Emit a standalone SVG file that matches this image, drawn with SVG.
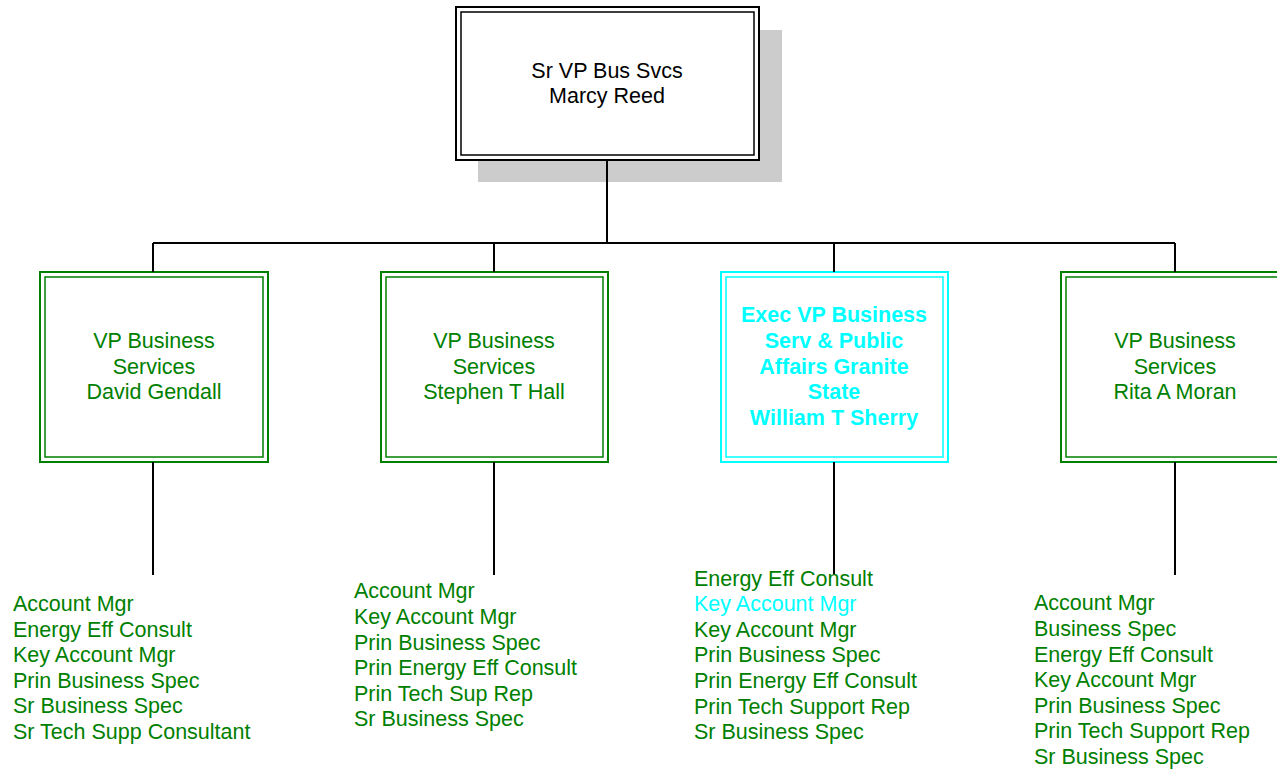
<svg xmlns="http://www.w3.org/2000/svg" width="1277" height="769" viewBox="0 0 1277 769">
<style>
text{font-family:"Liberation Sans",Arial,sans-serif;font-size:21.5px}
.c{text-anchor:middle}
.g{fill:#008000}
.cy{fill:#00ffff}
.b{font-weight:bold}
.bk{fill:#000}
.gbox{fill:#fff;stroke:#008000;stroke-width:2}
.gin{fill:none;stroke:#008000;stroke-width:1.5}
.cbox{fill:#fff;stroke:#00ffff;stroke-width:2}
.cin{fill:none;stroke:#00ffff;stroke-width:1.5}
.ln{stroke:#000;stroke-width:2;fill:none}
</style>
<rect width="1277" height="769" fill="#fff"/>
<g id="top">
<rect x="478" y="30" width="304" height="152" fill="#cccccc"/>
<rect x="456" y="7" width="303" height="153" fill="#fff" stroke="#000" stroke-width="2"/>
<rect x="461" y="12" width="293" height="143" fill="none" stroke="#000" stroke-width="1.5"/>
<text class="c bk" x="607" y="78">Sr VP Bus Svcs</text>
<text class="c bk" x="607" y="103">Marcy Reed</text>
</g>
<g id="vp1">
<rect class="gbox" x="40" y="272" width="228" height="190"/>
<rect class="gin" x="45" y="277" width="218" height="180"/>
<text class="c g" x="154" y="348">VP Business</text>
<text class="c g" x="154" y="374">Services</text>
<text class="c g" x="154" y="399">David Gendall</text>
</g>
<g id="vp2">
<rect class="gbox" x="381" y="272" width="227" height="190"/>
<rect class="gin" x="386" y="277" width="217" height="180"/>
<text class="c g" x="494" y="348">VP Business</text>
<text class="c g" x="494" y="374">Services</text>
<text class="c g" x="494" y="399">Stephen T Hall</text>
</g>
<g id="vp3">
<rect class="cbox" x="721" y="272" width="227" height="190"/>
<rect class="cin" x="726" y="277" width="217" height="180"/>
<text class="c cy b" x="834" y="322">Exec VP Business</text>
<text class="c cy b" x="834" y="348">Serv &amp; Public</text>
<text class="c cy b" x="834" y="374">Affairs Granite</text>
<text class="c cy b" x="834" y="399">State</text>
<text class="c cy b" x="834" y="425">William T Sherry</text>
</g>
<g id="vp4">
<rect class="gbox" x="1061" y="272" width="228" height="190"/>
<rect class="gin" x="1066" y="277" width="218" height="180"/>
<text class="c g" x="1175" y="348">VP Business</text>
<text class="c g" x="1175" y="374">Services</text>
<text class="c g" x="1175" y="399">Rita A Moran</text>
</g>
<g id="connectors">
<line class="ln" x1="607" y1="160" x2="607" y2="243"/>
<line class="ln" x1="153" y1="243" x2="1175" y2="243"/>
<line class="ln" x1="153" y1="243" x2="153" y2="272"/>
<line class="ln" x1="494" y1="243" x2="494" y2="272"/>
<line class="ln" x1="834" y1="243" x2="834" y2="272"/>
<line class="ln" x1="1175" y1="243" x2="1175" y2="272"/>
<line class="ln" x1="153" y1="462" x2="153" y2="575"/>
<line class="ln" x1="494" y1="462" x2="494" y2="575"/>
<line class="ln" x1="834" y1="462" x2="834" y2="575"/>
<line class="ln" x1="1175" y1="462" x2="1175" y2="575"/>
</g>
<g id="list1" class="g">
<text x="13" y="611">Account Mgr</text>
<text x="13" y="637">Energy Eff Consult</text>
<text x="13" y="662">Key Account Mgr</text>
<text x="13" y="688">Prin Business Spec</text>
<text x="13" y="713">Sr Business Spec</text>
<text x="13" y="739">Sr Tech Supp Consultant</text>
</g>
<g id="list2" class="g">
<text x="354" y="598">Account Mgr</text>
<text x="354" y="624">Key Account Mgr</text>
<text x="354" y="650">Prin Business Spec</text>
<text x="354" y="675">Prin Energy Eff Consult</text>
<text x="354" y="701">Prin Tech Sup Rep</text>
<text x="354" y="726">Sr Business Spec</text>
</g>
<g id="list3" class="g">
<text x="694" y="586">Energy Eff Consult</text>
<text x="694" y="611" class="cy">Key Account Mgr</text>
<text x="694" y="637">Key Account Mgr</text>
<text x="694" y="662">Prin Business Spec</text>
<text x="694" y="688">Prin Energy Eff Consult</text>
<text x="694" y="714">Prin Tech Support Rep</text>
<text x="694" y="739">Sr Business Spec</text>
</g>
<g id="list4" class="g">
<text x="1034" y="610">Account Mgr</text>
<text x="1034" y="636">Business Spec</text>
<text x="1034" y="662">Energy Eff Consult</text>
<text x="1034" y="687">Key Account Mgr</text>
<text x="1034" y="713">Prin Business Spec</text>
<text x="1034" y="738">Prin Tech Support Rep</text>
<text x="1034" y="764">Sr Business Spec</text>
</g>
</svg>
